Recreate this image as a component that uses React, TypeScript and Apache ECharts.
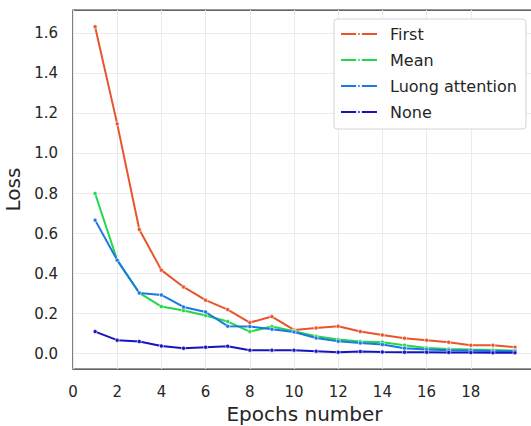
import React, { useEffect, useRef } from "react";
import * as echarts from "echarts";

const epochs = [1, 2, 3, 4, 5, 6, 7, 8, 9, 10, 11, 12, 13, 14, 15, 16, 17, 18, 19, 20];
const firstLoss = [1.633, 1.148, 0.62, 0.417, 0.333, 0.267, 0.22, 0.155, 0.185, 0.118, 0.128, 0.137, 0.11, 0.093, 0.077, 0.067, 0.057, 0.042, 0.042, 0.032];
const meanLoss = [0.8, 0.467, 0.303, 0.235, 0.215, 0.19, 0.16, 0.11, 0.135, 0.112, 0.087, 0.07, 0.06, 0.057, 0.042, 0.028, 0.023, 0.02, 0.018, 0.015];
const luongLoss = [0.667, 0.467, 0.303, 0.293, 0.233, 0.208, 0.137, 0.135, 0.122, 0.108, 0.078, 0.062, 0.053, 0.045, 0.027, 0.02, 0.017, 0.015, 0.013, 0.012];
const noneLoss = [0.11, 0.067, 0.06, 0.038, 0.027, 0.032, 0.037, 0.017, 0.017, 0.017, 0.012, 0.007, 0.01, 0.008, 0.007, 0.007, 0.006, 0.005, 0.004, 0.004];
const xTicks = [0, 2, 4, 6, 8, 10, 12, 14, 16, 18];
const yTicks = [0, 0.2, 0.4, 0.6, 0.8, 1.0, 1.2, 1.4, 1.6];

const seriesNames = ["First", "Mean", "Luong attention", "None"];
const seriesColors = ["#e8552d", "#22d84a", "#1a78e6", "#1414c0"];
const seriesValues = [firstLoss, meanLoss, luongLoss, noneLoss];

const FONT = "DejaVu Sans";
const TEXT = "#262626";

export default function App() {
  const ref = useRef<HTMLDivElement>(null);
  useEffect(() => {
    if (!ref.current) return;
    const chart = echarts.init(ref.current, undefined, { renderer: "svg" });
    chart.setOption({
      animation: false,
      backgroundColor: "#ffffff",
      grid: {
        left: 73,
        top: 10,
        right: -5,
        bottom: 57,
        containLabel: false,
        outerBoundsMode: "none",
        show: true,
        borderColor: "#333333",
        borderWidth: 1.25,
        backgroundColor: "transparent",
      },
      legend: {
        orient: "vertical",
        left: 334,
        top: 19,
        padding: [6, 9, 8, 6],
        itemGap: 8,
        itemWidth: 36,
        itemHeight: 5,
        backgroundColor: "#ffffff",
        borderColor: "#d4d4d4",
        borderWidth: 1,
        borderRadius: 3,
        textStyle: {
          fontFamily: FONT,
          fontSize: 16,
          color: TEXT,
          lineHeight: 18,
          padding: [0, 0, 0, 8],
        },
        data: seriesNames,
      },
      xAxis: {
        type: "value",
        min: 0,
        max: 20.95,
        name: "Epochs number",
        nameLocation: "middle",
        nameGap: 35,
        nameTextStyle: { fontFamily: FONT, fontSize: 20, color: TEXT },
        axisLine: { show: false, onZero: false },
        axisTick: { show: false, customValues: xTicks },
        axisLabel: {
          customValues: xTicks,
          fontFamily: FONT,
          fontSize: 15,
          color: TEXT,
          margin: 15,
        },
        splitLine: { show: true, lineStyle: { color: "#ebebeb", width: 1 } },
      },
      yAxis: {
        type: "value",
        min: -0.077,
        max: 1.717,
        name: "Loss",
        nameLocation: "middle",
        nameGap: 43,
        nameTextStyle: { fontFamily: FONT, fontSize: 20, color: TEXT },
        axisLine: { show: false },
        axisTick: { show: false, customValues: yTicks },
        axisLabel: {
          customValues: yTicks,
          fontFamily: FONT,
          fontSize: 15,
          color: TEXT,
          margin: 15,
          formatter: (v: number) => v.toFixed(1),
        },
        splitLine: { show: true, lineStyle: { color: "#ebebeb", width: 1 } },
      },
      series: seriesNames.map((name, i) => ({
        name,
        type: "line",
        data: epochs.map((e, j) => [e, seriesValues[i][j]]),
        symbol: "circle",
        symbolSize: 4,
        showSymbol: true,
        lineStyle: { color: seriesColors[i], width: 2 },
        itemStyle: { color: seriesColors[i], borderColor: "#ffffff", borderWidth: 0.6 },
        z: 2 + i,
      })),
    });
    return () => chart.dispose();
  }, []);
  return (
    <div
      ref={ref}
      style={{ position: "fixed", left: 0, top: 0, width: 531, height: 426 }}
    />
  );
}
